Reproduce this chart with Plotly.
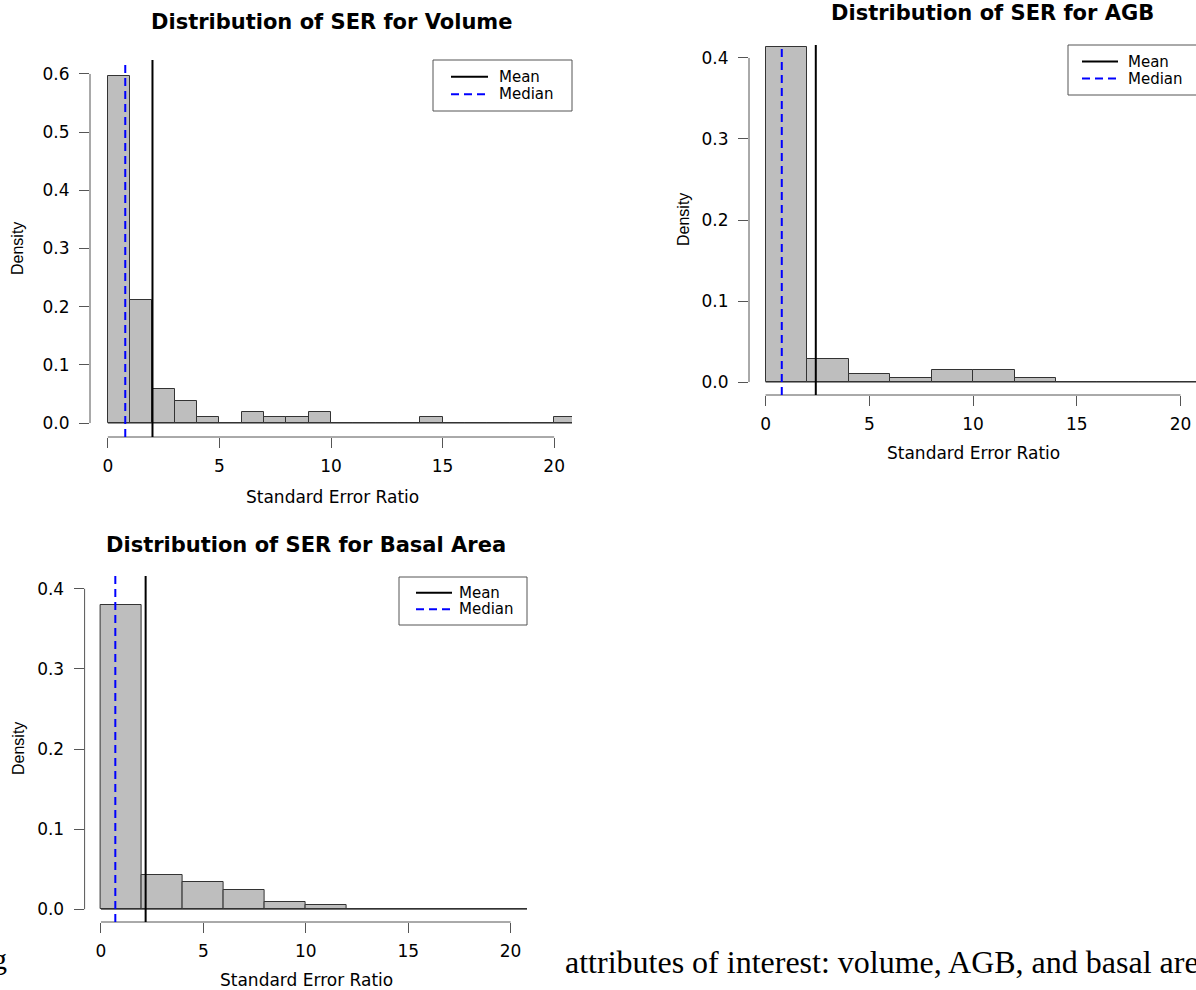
import plotly.graph_objects as go

W, H = 1196, 990

# ---------------- data ----------------
# Volume: unit-width bins
vol_edges = [0, 1, 2, 3, 4, 5, 6, 7, 8, 9, 10, 11, 12, 13, 14, 15, 16, 17, 18, 19, 20, 21]
vol_density = [0.596, 0.2115, 0.0577, 0.0385, 0.0096, 0.0, 0.0192, 0.0096, 0.0096, 0.0192,
               0.0, 0.0, 0.0, 0.0, 0.0096, 0.0, 0.0, 0.0, 0.0, 0.0, 0.0096]
vol_mean, vol_median = 2.0, 0.78

# AGB: bins of width 2
agb_edges = [0, 2, 4, 6, 8, 10, 12, 14, 16, 18, 20, 22]
agb_density = [0.4135, 0.0288, 0.0096, 0.0048, 0.0144, 0.0144, 0.0048, 0.0, 0.0, 0.0, 0.0]
agb_mean, agb_median = 2.42, 0.78

# Basal area: bins of width 2
ba_edges = [0, 2, 4, 6, 8, 10, 12, 14, 16, 18, 20, 22]
ba_density = [0.38, 0.0433, 0.0337, 0.024, 0.0096, 0.0048, 0.0, 0.0, 0.0, 0.0, 0.0]
ba_mean, ba_median = 2.18, 0.70

x_ticks = [0, 5, 10, 15, 20]
vol_yticks = [0.0, 0.1, 0.2, 0.3, 0.4, 0.5, 0.6]
small_yticks = [0.0, 0.1, 0.2, 0.3, 0.4]

titles = ["Distribution of SER for Volume", "Distribution of SER for AGB",
          "Distribution of SER for Basal Area"]
xlab = "Standard Error Ratio"
ylab = "Density"
legend_labels = ["Mean", "Median"]

# ---------------- styling ----------------
FILL = "#BEBEBE"
EDGE = "#333333"
AXC = "#555555"
SANS = "DejaVu Sans"


def fx(px):
    return px / W


def fy(py):
    return 1 - py / H


# pixel boxes of each plotting region: (left, top, right, bottom), x range, y range
panels = [
    dict(box=(90, 60, 572, 437), xr=[-0.8, 20.8], yr=[-0.024, 0.624],
         edges=vol_edges, dens=vol_density, mean=vol_mean, median=vol_median,
         yticks=vol_yticks, title=titles[0], title_xy=(332, 22), xlab_x=332,
         xlab_y=497, ylab_xy=(18, 249), legend=(433, 60, 572, 111), leg_off=(18, 55, 64)),
    dict(box=(749, 45, 1196, 395), xr=[-0.8, 20.75], yr=[-0.016, 0.416],
         edges=agb_edges, dens=agb_density, mean=agb_mean, median=agb_median,
         yticks=small_yticks, title=titles[1], title_xy=(993, 13), xlab_x=973,
         xlab_y=453, ylab_xy=(683, 220), legend=(1068, 45, 1210, 95), leg_off=(14, 50, 58)),
    dict(box=(84.6, 576, 527, 922), xr=[-0.8, 20.8], yr=[-0.016, 0.416],
         edges=ba_edges, dens=ba_density, mean=ba_mean, median=ba_median,
         yticks=small_yticks, title=titles[2], title_xy=(306, 545), xlab_x=306,
         xlab_y=980, ylab_xy=(18, 749), legend=(399, 577, 527, 625), leg_off=(17, 53, 58)),
]

fig = go.Figure()
shapes = []
annotations = []
layout_axes = {}

for i, p in enumerate(panels):
    sfx = "" if i == 0 else str(i + 1)
    xa, ya = "x" + sfx, "y" + sfx
    left, top, right, bottom = p["box"]
    edges, dens = p["edges"], p["dens"]
    centers = [(a + b) / 2 for a, b in zip(edges[:-1], edges[1:])]
    widths = [b - a for a, b in zip(edges[:-1], edges[1:])]

    # empty bins show as a flat line along zero
    fig.add_trace(go.Scatter(x=[edges[0], edges[-1]], y=[0, 0], mode="lines",
                             line=dict(color=EDGE, width=1), xaxis=xa, yaxis=ya,
                             showlegend=False, hoverinfo="skip"))
    fig.add_trace(go.Bar(x=centers, y=dens, width=widths, xaxis=xa, yaxis=ya,
                         marker=dict(color=FILL, line=dict(color=EDGE, width=1)),
                         showlegend=False, hoverinfo="skip"))

    axis_common = dict(showgrid=False, zeroline=False, showline=False,
                       ticks="outside", ticklen=10, tickwidth=1, tickcolor=AXC,
                       tickfont=dict(family=SANS, size=17, color="black"))
    layout_axes["xaxis" + sfx] = dict(axis_common, domain=[fx(left), fx(right)],
                                      range=p["xr"], anchor=ya, tickvals=x_ticks,
                                      ticktext=[str(t) for t in x_ticks],
                                      ticklabelstandoff=4)
    layout_axes["yaxis" + sfx] = dict(axis_common, domain=[fy(bottom), fy(top)],
                                      range=p["yr"], anchor=xa, tickvals=p["yticks"],
                                      ticktext=["%.1f" % t for t in p["yticks"]],
                                      ticklabelstandoff=6)

    # axis lines spanning the tick range only
    shapes.append(dict(type="line", xref="paper", yref=ya, x0=fx(left), x1=fx(left),
                       y0=p["yticks"][0], y1=p["yticks"][-1],
                       line=dict(color=AXC, width=1)))
    shapes.append(dict(type="line", xref=xa, yref="paper", x0=x_ticks[0], x1=x_ticks[-1],
                       y0=fy(bottom), y1=fy(bottom), line=dict(color=AXC, width=1)))

    # mean and median markers
    shapes.append(dict(type="line", xref=xa, yref=ya + " domain", x0=p["mean"], x1=p["mean"],
                       y0=0, y1=1, line=dict(color="black", width=2)))
    shapes.append(dict(type="line", xref=xa, yref=ya + " domain", x0=p["median"],
                       x1=p["median"], y0=0, y1=1,
                       line=dict(color="#0000FF", width=2, dash="8px,5px")))

    # titles
    tx, ty = p["title_xy"]
    annotations.append(dict(text=p["title"], xref="paper", yref="paper", x=fx(tx), y=fy(ty),
                            xanchor="center", yanchor="middle", showarrow=False,
                            font=dict(family=SANS, size=21, color="black", weight="bold")))
    annotations.append(dict(text=xlab, xref="paper", yref="paper",
                            x=fx(p["xlab_x"]), y=fy(p["xlab_y"]),
                            xanchor="center", yanchor="middle", showarrow=False,
                            font=dict(family=SANS, size=17, color="black")))
    lx, ly = p["ylab_xy"]
    annotations.append(dict(text=ylab, xref="paper", yref="paper", x=fx(lx), y=fy(ly),
                            xanchor="center", yanchor="middle", showarrow=False,
                            textangle=-90,
                            font=dict(family="Liberation Sans", size=16, color="black")))

    # legend box
    bx0, by0, bx1, by1 = p["legend"]
    l0, l1, toff = p["leg_off"]
    shapes.append(dict(type="rect", xref="paper", yref="paper", x0=fx(bx0), x1=fx(bx1),
                       y0=fy(by1), y1=fy(by0), fillcolor="white",
                       line=dict(color=AXC, width=1)))
    row_y = [by0 + (by1 - by0) * 0.33, by0 + (by1 - by0) * 0.67]
    styles = [dict(color="black", width=2), dict(color="#0000FF", width=2, dash="8px,5px")]
    for lab, ry, st in zip(legend_labels, row_y, styles):
        shapes.append(dict(type="line", xref="paper", yref="paper", x0=fx(bx0 + l0),
                           x1=fx(bx0 + l1), y0=fy(ry), y1=fy(ry), line=st))
        annotations.append(dict(text=lab, xref="paper", yref="paper", x=fx(bx0 + toff),
                                y=fy(ry), xanchor="left", yanchor="middle", showarrow=False,
                                font=dict(family=SANS, size=15, color="black")))

# surrounding document text
annotations.append(dict(text="attributes of interest: volume, AGB, and basal are",
                        xref="paper", yref="paper", x=fx(563), y=fy(962),
                        xanchor="left", yanchor="middle", showarrow=False,
                        font=dict(family="Liberation Serif", size=32, color="black")))
annotations.append(dict(text="g", xref="paper", yref="paper", x=fx(9), y=fy(958),
                        xanchor="right", yanchor="middle", showarrow=False,
                        font=dict(family="Liberation Serif", size=30, color="black")))

fig.update_layout(width=W, height=H, margin=dict(l=0, r=0, t=0, b=0),
                  paper_bgcolor="white", plot_bgcolor="white", bargap=0,
                  shapes=shapes, annotations=annotations, showlegend=False,
                  **layout_axes)

fig.write_html("out.html")
